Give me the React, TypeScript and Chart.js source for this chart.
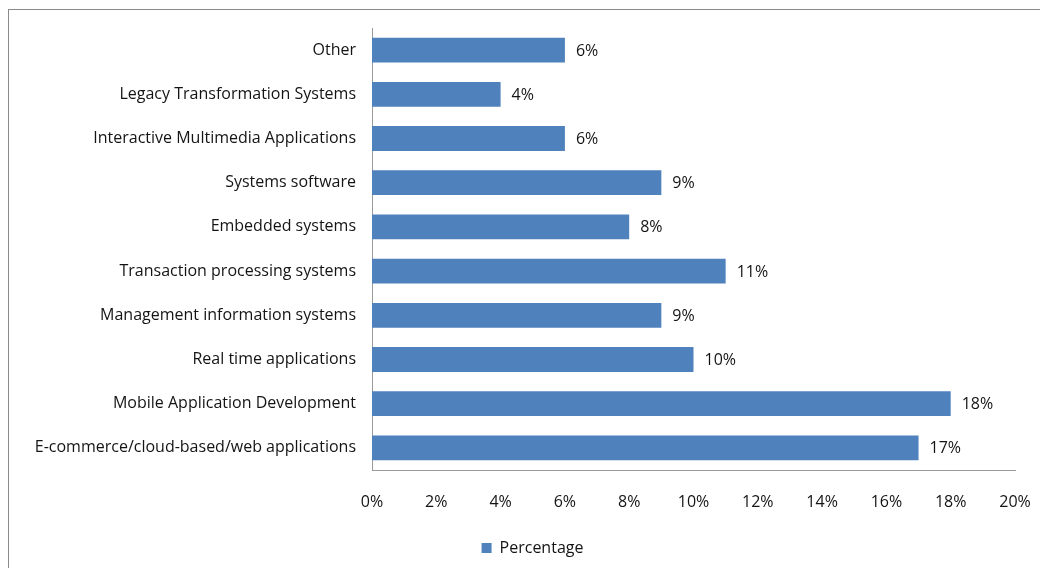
import React, { useEffect, useRef } from "react";
import { Chart, registerables } from "chart.js";

Chart.register(...registerables);

const categories: string[] = [
  "Other",
  "Legacy Transformation Systems",
  "Interactive Multimedia Applications",
  "Systems software",
  "Embedded systems",
  "Transaction processing systems",
  "Management information systems",
  "Real time applications",
  "Mobile Application Development",
  "E-commerce/cloud-based/web applications",
];

const percentages: number[] = [6, 4, 6, 9, 8, 11, 9, 10, 18, 17];

const seriesName = "Percentage";
const xMin = 0;
const xMax = 20;
const xStep = 2;

const FONT = "'Open Sans', Lato, sans-serif";
const FS = 16;
const TEXT = "#141414";
const BAR = "#4f81bd";
const AXIS = "#9a9a9a";

const valueLabels = {
  id: "valueLabels",
  afterDatasetsDraw(chart: any) {
    const ctx = chart.ctx;
    ctx.save();
    ctx.font = `${FS}px ${FONT}`;
    ctx.fillStyle = TEXT;
    ctx.textAlign = "left";
    ctx.textBaseline = "middle";
    chart.data.datasets.forEach((ds: any, di: number) => {
      const meta = chart.getDatasetMeta(di);
      meta.data.forEach((el: any, i: number) => {
        ctx.fillText(`${ds.data[i]}%`, el.x + 11, el.y + 1);
      });
    });
    ctx.restore();
  },
};

// shift the legend row so it is centred like the original (slightly right of centre)
const legendShift = {
  id: "legendShift",
  afterLayout(chart: any) {
    if (chart.legend) {
      chart.legend.left += 50;
    }
  },
};

export default function App() {
  const ref = useRef<HTMLCanvasElement | null>(null);

  useEffect(() => {
    if (!ref.current) return;
    const chart = new Chart(ref.current, {
      type: "bar",
      data: {
        labels: categories,
        datasets: [
          {
            label: seriesName,
            data: percentages,
            backgroundColor: BAR,
            borderWidth: 0,
            barPercentage: 0.56,
            categoryPercentage: 1,
          },
        ],
      },
      options: {
        indexAxis: "y",
        animation: false,
        responsive: false,
        maintainAspectRatio: false,
        layout: { padding: { left: 0, right: 25, top: 28, bottom: 2 } },
        plugins: {
          legend: {
            position: "bottom",
            labels: {
              boxWidth: 10,
              boxHeight: 10,
              color: TEXT,
              font: { family: FONT, size: FS },
              padding: 10,
            },
          },
          tooltip: { enabled: false },
        },
        scales: {
          x: {
            min: xMin,
            max: xMax,
            grid: { display: false, drawTicks: false },
            border: { display: true, color: AXIS, width: 1 },
            ticks: {
              stepSize: xStep,
              padding: 23,
              color: TEXT,
              font: { family: FONT, size: FS },
              maxRotation: 0,
              callback: (v: any) => `${v}%`,
            },
            afterFit: (s: any) => {
              s.height = 60;
              s.paddingLeft = 0;
              s.paddingRight = 0;
            },
          },
          y: {
            grid: { display: false, drawTicks: false },
            border: { display: true, color: AXIS, width: 1 },
            ticks: {
              padding: 16,
              color: TEXT,
              font: { family: FONT, size: FS },
              autoSkip: false,
            },
            afterFit: (s: any) => {
              s.width = 372;
              s.paddingTop = 0;
              s.paddingBottom = 0;
            },
          },
        },
      },
      plugins: [valueLabels, legendShift],
    });
    return () => chart.destroy();
  }, []);

  return (
    <div
      style={{
        position: "absolute",
        left: 0,
        top: 0,
        width: 1040,
        height: 568,
        overflow: "hidden",
        background: "#ffffff",
      }}
    >
      <div
        style={{
          position: "absolute",
          left: 8,
          top: 9,
          width: 1100,
          height: 620,
          border: "1px solid #8a8a8a",
          boxSizing: "border-box",
        }}
      />
      <canvas
        ref={ref}
        width={1040}
        height={568}
        style={{ position: "absolute", left: 0, top: 0, width: 1040, height: 568 }}
      />
    </div>
  );
}
